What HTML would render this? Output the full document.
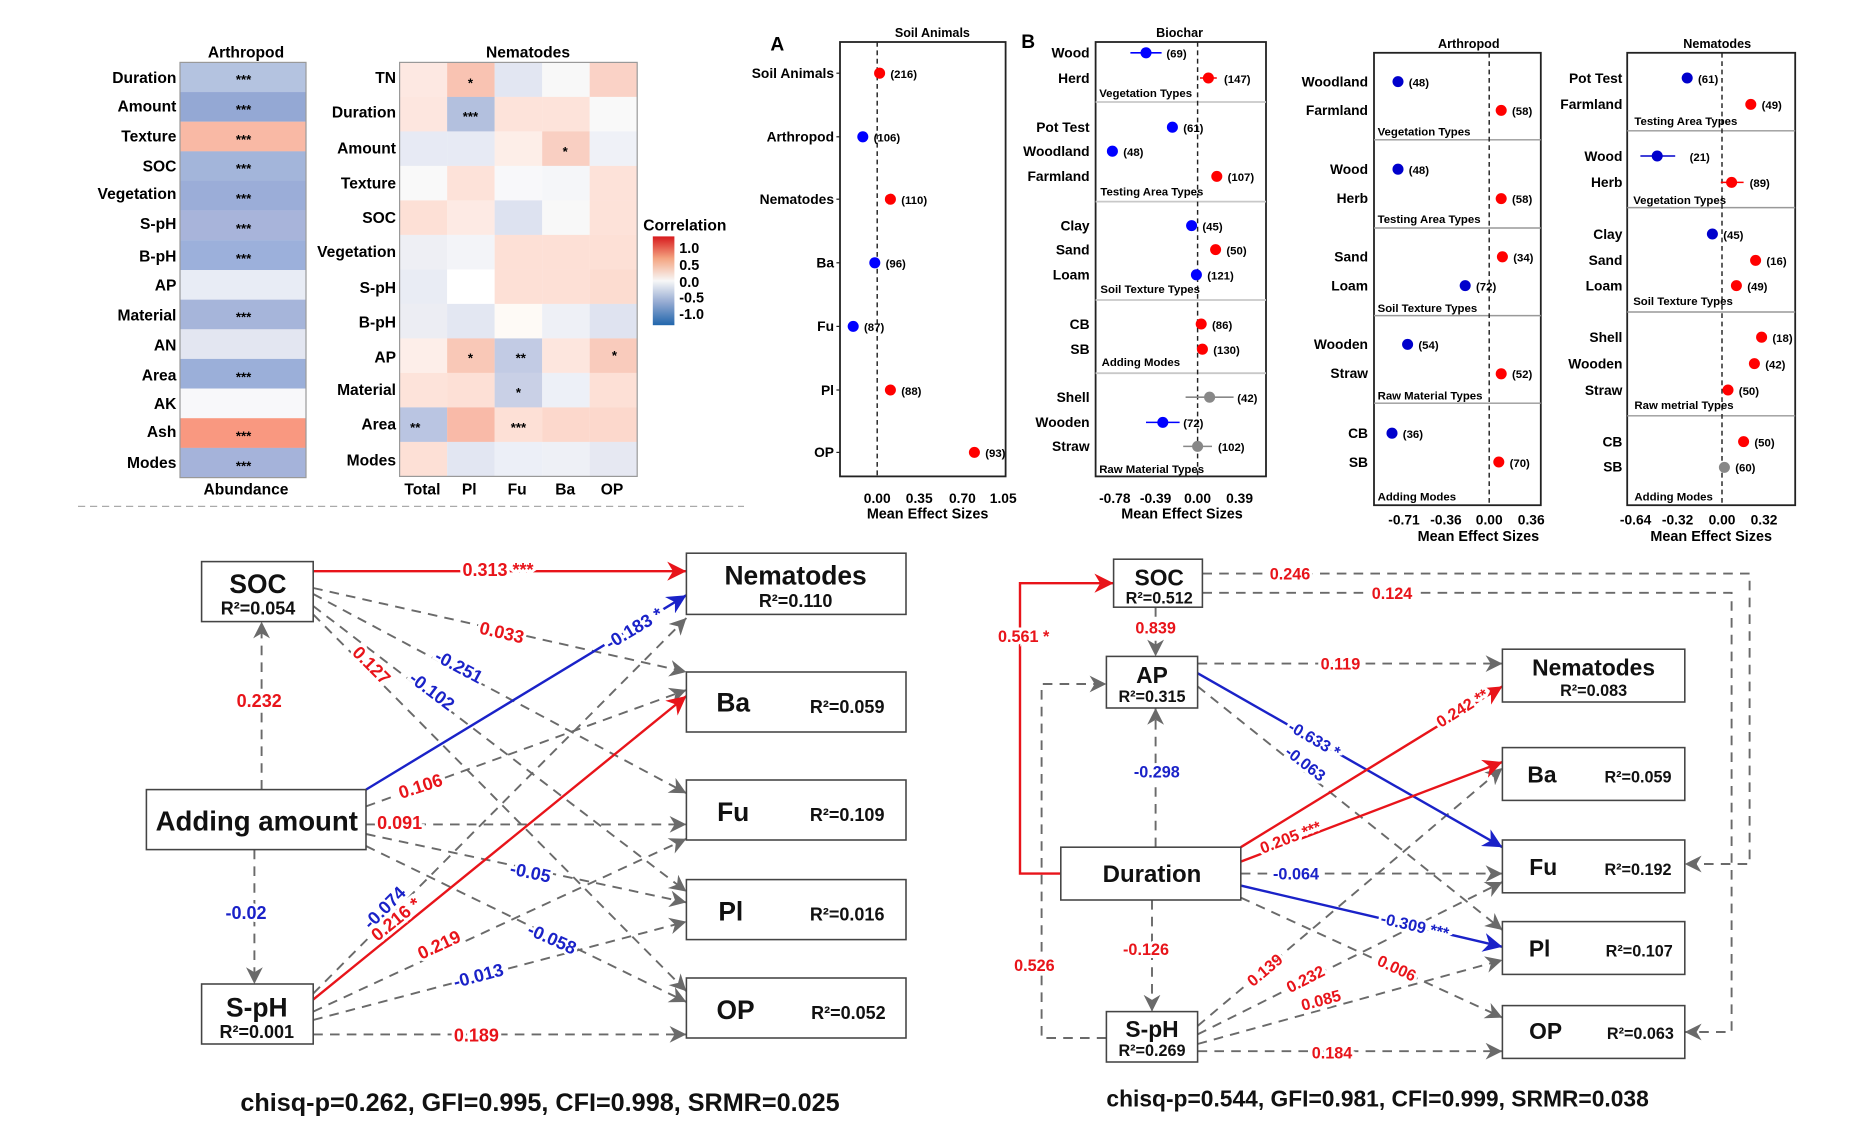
<!DOCTYPE html>
<html><head><meta charset="utf-8"><style>
html,body{margin:0;padding:0;background:#fff}
svg{display:block}
text{font-family:"Liberation Sans",Arial,sans-serif;font-weight:bold}
.n{font-family:"Liberation Sans Narrow","Liberation Sans",sans-serif}
</style></head><body>
<svg width="1875" height="1125" viewBox="0 0 1562.5 937.5" preserveAspectRatio="none" xmlns="http://www.w3.org/2000/svg">
<defs>
<marker id="ag" viewBox="0 0 10 10" refX="10" refY="5" markerWidth="14" markerHeight="14" markerUnits="userSpaceOnUse" orient="auto"><path d="M0,0 L10,5 L0,10 L3,5z" fill="#6a6a6a"/></marker>
<marker id="ar" viewBox="0 0 10 10" refX="10" refY="5" markerWidth="16" markerHeight="16" markerUnits="userSpaceOnUse" orient="auto"><path d="M0,0 L10,5 L0,10 L3,5z" fill="#e8141a"/></marker>
<marker id="ab" viewBox="0 0 10 10" refX="10" refY="5" markerWidth="16" markerHeight="16" markerUnits="userSpaceOnUse" orient="auto"><path d="M0,0 L10,5 L0,10 L3,5z" fill="#1a22c8"/></marker>
<linearGradient id="cb" x1="0" y1="0" x2="0" y2="1">
<stop offset="0" stop-color="#d7191c"/><stop offset="0.25" stop-color="#f4a582"/><stop offset="0.5" stop-color="#f7f7f7"/><stop offset="0.75" stop-color="#92a8d1"/><stop offset="1" stop-color="#2166ac"/></linearGradient>
</defs>

<!-- ===== Heatmap Arthropod ===== -->
<g class="n">
<text x="205" y="48" font-size="13" text-anchor="middle">Arthropod</text>
<rect x="150" y="52" width="105" height="24.8" fill="#b4c3e0"/>
<rect x="150" y="76.7" width="105" height="24.8" fill="#94a8d4"/>
<rect x="150" y="101.4" width="105" height="24.8" fill="#f9b9a5"/>
<rect x="150" y="126.1" width="105" height="24.8" fill="#a3b5da"/>
<rect x="150" y="150.8" width="105" height="24.8" fill="#9badd8"/>
<rect x="150" y="175.5" width="105" height="24.8" fill="#a8b4da"/>
<rect x="150" y="200.2" width="105" height="24.8" fill="#9cb0db"/>
<rect x="150" y="225" width="105" height="24.8" fill="#e8ecf5"/>
<rect x="150" y="249.7" width="105" height="24.8" fill="#a6b5da"/>
<rect x="150" y="274.4" width="105" height="24.8" fill="#e3e6f1"/>
<rect x="150" y="299.1" width="105" height="24.8" fill="#9bafd9"/>
<rect x="150" y="323.8" width="105" height="24.8" fill="#f8f8fa"/>
<rect x="150" y="348.5" width="105" height="24.8" fill="#f99880"/>
<rect x="150" y="373.2" width="105" height="24.8" fill="#a5b3da"/>
<rect x="150" y="52" width="105" height="346" fill="none" stroke="#999" stroke-width="1"/>
<g font-size="13" text-anchor="end">
<text x="147" y="69">Duration</text><text x="147" y="93">Amount</text><text x="147" y="118">Texture</text>
<text x="147" y="143">SOC</text><text x="147" y="166">Vegetation</text><text x="147" y="191">S-pH</text>
<text x="147" y="218">B-pH</text><text x="147" y="242">AP</text><text x="147" y="267">Material</text>
<text x="147" y="292">AN</text><text x="147" y="317">Area</text><text x="147" y="341">AK</text>
<text x="147" y="364">Ash</text><text x="147" y="390">Modes</text>
</g>
<g font-size="11" text-anchor="middle">
<text x="203" y="70">***</text><text x="203" y="95">***</text><text x="203" y="120">***</text>
<text x="203" y="144">***</text><text x="203" y="169">***</text><text x="203" y="194">***</text>
<text x="203" y="219">***</text><text x="203" y="268">***</text><text x="203" y="318">***</text>
<text x="203" y="367">***</text><text x="203" y="392">***</text>
</g>
<text x="205" y="412" font-size="13" text-anchor="middle">Abundance</text>
</g>

<!-- ===== Heatmap Nematodes ===== -->
<g class="n">
<text x="440" y="48" font-size="13" text-anchor="middle">Nematodes</text>
<rect x="333" y="52" width="39.7" height="28.8" fill="#fde8e2"/><rect x="372.6" y="52" width="39.7" height="28.8" fill="#f9c3b2"/><rect x="412.2" y="52" width="39.7" height="28.8" fill="#e2e6f2"/><rect x="451.8" y="52" width="39.7" height="28.8" fill="#f8f8f8"/><rect x="491.4" y="52" width="39.6" height="28.8" fill="#fad2c6"/>
<rect x="333" y="80.75" width="39.7" height="28.8" fill="#fde6df"/><rect x="372.6" y="80.75" width="39.7" height="28.8" fill="#b3c0de"/><rect x="412.2" y="80.75" width="39.7" height="28.8" fill="#fde3da"/><rect x="451.8" y="80.75" width="39.7" height="28.8" fill="#fde3da"/><rect x="491.4" y="80.75" width="39.6" height="28.8" fill="#f9f9f9"/>
<rect x="333" y="109.5" width="39.7" height="28.8" fill="#e7eaf4"/><rect x="372.6" y="109.5" width="39.7" height="28.8" fill="#e7eaf4"/><rect x="412.2" y="109.5" width="39.7" height="28.8" fill="#fdeee8"/><rect x="451.8" y="109.5" width="39.7" height="28.8" fill="#f9cfc2"/><rect x="491.4" y="109.5" width="39.6" height="28.8" fill="#eff1f7"/>
<rect x="333" y="138.25" width="39.7" height="28.8" fill="#f9f9f9"/><rect x="372.6" y="138.25" width="39.7" height="28.8" fill="#fde2d9"/><rect x="412.2" y="138.25" width="39.7" height="28.8" fill="#f8f8fa"/><rect x="451.8" y="138.25" width="39.7" height="28.8" fill="#f5f6f9"/><rect x="491.4" y="138.25" width="39.6" height="28.8" fill="#fde2d9"/>
<rect x="333" y="167" width="39.7" height="28.8" fill="#fde0d6"/><rect x="372.6" y="167" width="39.7" height="28.8" fill="#fdeae4"/><rect x="412.2" y="167" width="39.7" height="28.8" fill="#dde2f0"/><rect x="451.8" y="167" width="39.7" height="28.8" fill="#f8f8f8"/><rect x="491.4" y="167" width="39.6" height="28.8" fill="#fde2d9"/>
<rect x="333" y="195.75" width="39.7" height="28.8" fill="#eeeff4"/><rect x="372.6" y="195.75" width="39.7" height="28.8" fill="#f3f4f8"/><rect x="412.2" y="195.75" width="39.7" height="28.8" fill="#fde0d6"/><rect x="451.8" y="195.75" width="39.7" height="28.8" fill="#fde0d6"/><rect x="491.4" y="195.75" width="39.6" height="28.8" fill="#fde0d6"/>
<rect x="333" y="224.5" width="39.7" height="28.8" fill="#e9ecf4"/><rect x="372.6" y="224.5" width="39.7" height="28.8" fill="#ffffff"/><rect x="412.2" y="224.5" width="39.7" height="28.8" fill="#fde0d6"/><rect x="451.8" y="224.5" width="39.7" height="28.8" fill="#fde0d6"/><rect x="491.4" y="224.5" width="39.6" height="28.8" fill="#fcdcd0"/>
<rect x="333" y="253.25" width="39.7" height="28.8" fill="#ecedf3"/><rect x="372.6" y="253.25" width="39.7" height="28.8" fill="#e3e7f2"/><rect x="412.2" y="253.25" width="39.7" height="28.8" fill="#fefaf6"/><rect x="451.8" y="253.25" width="39.7" height="28.8" fill="#eef0f6"/><rect x="491.4" y="253.25" width="39.6" height="28.8" fill="#dfe3f0"/>
<rect x="333" y="282" width="39.7" height="28.8" fill="#fdeee9"/><rect x="372.6" y="282" width="39.7" height="28.8" fill="#f9c8b7"/><rect x="412.2" y="282" width="39.7" height="28.8" fill="#c2cbe4"/><rect x="451.8" y="282" width="39.7" height="28.8" fill="#fde6de"/><rect x="491.4" y="282" width="39.6" height="28.8" fill="#f9cbbc"/>
<rect x="333" y="310.75" width="39.7" height="28.8" fill="#fde3da"/><rect x="372.6" y="310.75" width="39.7" height="28.8" fill="#fde0d6"/><rect x="412.2" y="310.75" width="39.7" height="28.8" fill="#c9d0e6"/><rect x="451.8" y="310.75" width="39.7" height="28.8" fill="#edf0f7"/><rect x="491.4" y="310.75" width="39.6" height="28.8" fill="#fde0d6"/>
<rect x="333" y="339.5" width="39.7" height="28.8" fill="#bac5e2"/><rect x="372.6" y="339.5" width="39.7" height="28.8" fill="#f9baa8"/><rect x="412.2" y="339.5" width="39.7" height="28.8" fill="#fde0d6"/><rect x="451.8" y="339.5" width="39.7" height="28.8" fill="#fcd8cc"/><rect x="491.4" y="339.5" width="39.6" height="28.8" fill="#fcd8cc"/>
<rect x="333" y="368.25" width="39.7" height="28.75" fill="#fde0d6"/><rect x="372.6" y="368.25" width="39.7" height="28.75" fill="#e2e6f2"/><rect x="412.2" y="368.25" width="39.7" height="28.75" fill="#eceff7"/><rect x="451.8" y="368.25" width="39.7" height="28.75" fill="#eef0f6"/><rect x="491.4" y="368.25" width="39.6" height="28.75" fill="#e6e8f2"/>
<rect x="333" y="52" width="198" height="345" fill="none" stroke="#999" stroke-width="1"/>
<g font-size="13" text-anchor="end">
<text x="330" y="69">TN</text><text x="330" y="98">Duration</text><text x="330" y="128">Amount</text>
<text x="330" y="157">Texture</text><text x="330" y="186">SOC</text><text x="330" y="214">Vegetation</text>
<text x="330" y="244">S-pH</text><text x="330" y="273">B-pH</text><text x="330" y="302">AP</text>
<text x="330" y="329">Material</text><text x="330" y="358">Area</text><text x="330" y="388">Modes</text>
</g>
<g font-size="11" text-anchor="middle">
<text x="392" y="73">*</text><text x="392" y="101">***</text><text x="471" y="130">*</text>
<text x="392" y="302">*</text><text x="434" y="302">**</text><text x="512" y="300">*</text>
<text x="432" y="331">*</text><text x="346" y="360">**</text><text x="432" y="360">***</text>
</g>
<g font-size="13" text-anchor="middle">
<text x="352" y="412">Total</text><text x="391" y="412">Pl</text><text x="431" y="412">Fu</text><text x="471" y="412">Ba</text><text x="510" y="412">OP</text>
</g>
<text x="536" y="192" font-size="13">Correlation</text>
<rect x="544" y="197" width="18" height="74" fill="url(#cb)"/>
<g font-size="12"><text x="566" y="211">1.0</text><text x="566" y="225">0.5</text><text x="566" y="239">0.0</text><text x="566" y="252">-0.5</text><text x="566" y="266">-1.0</text></g>
</g>

<line x1="65" y1="422" x2="620" y2="422" stroke="#aaa" stroke-width="1" stroke-dasharray="6,4"/>

<!-- ===== Panel A ===== -->
<g font-size="12">
<text x="642" y="42" font-size="16">A</text>
<text x="777" y="31" font-size="10.5" text-anchor="middle">Soil Animals</text>
<rect x="700" y="35" width="138" height="362" fill="none" stroke="#222" stroke-width="1.5"/>
<line x1="731" y1="35" x2="731" y2="397" stroke="#222" stroke-width="1.2" stroke-dasharray="4,3"/>
<g text-anchor="end" font-size="11.5">
<text x="695" y="65">Soil Animals</text><text x="695" y="118">Arthropod</text><text x="695" y="170">Nematodes</text>
<text x="695" y="223">Ba</text><text x="695" y="276">Fu</text><text x="695" y="329">Pl</text><text x="695" y="381">OP</text>
</g>
<g stroke="#222"><line x1="697" y1="61" x2="700" y2="61"/><line x1="697" y1="114" x2="700" y2="114"/><line x1="697" y1="166" x2="700" y2="166"/><line x1="697" y1="219" x2="700" y2="219"/><line x1="697" y1="272" x2="700" y2="272"/><line x1="697" y1="325" x2="700" y2="325"/><line x1="697" y1="377" x2="700" y2="377"/></g>
<circle cx="733" cy="61" r="4.6" fill="#f00"/><circle cx="719" cy="114" r="4.6" fill="#00f"/><circle cx="742" cy="166" r="4.6" fill="#f00"/>
<circle cx="729" cy="219" r="4.6" fill="#00f"/><circle cx="711" cy="272" r="4.6" fill="#00f"/><circle cx="742" cy="325" r="4.6" fill="#f00"/><circle cx="812" cy="377" r="4.6" fill="#f00"/>
<g font-size="9.5"><text x="742" y="65">(216)</text><text x="728" y="118">(106)</text><text x="751" y="170">(110)</text><text x="738" y="223">(96)</text><text x="720" y="276">(87)</text><text x="751" y="329">(88)</text><text x="821" y="381">(93)</text></g>
<g text-anchor="middle" font-size="11.5"><text x="731" y="419">0.00</text><text x="766" y="419">0.35</text><text x="802" y="419">0.70</text><text x="836" y="419">1.05</text></g>
<text x="773" y="432" font-size="12" text-anchor="middle">Mean Effect Sizes</text>
</g>

<!-- ===== Panel B ===== -->
<g font-size="12">
<text x="851" y="40" font-size="16">B</text>
<text x="983" y="31" font-size="10.5" text-anchor="middle">Biochar</text>
<rect x="913" y="35" width="142" height="362" fill="none" stroke="#222" stroke-width="1.5"/>
<g stroke="#c8c8c8" stroke-width="1.5"><line x1="913" y1="85" x2="1055" y2="85"/><line x1="913" y1="168" x2="1055" y2="168"/><line x1="913" y1="250" x2="1055" y2="250"/><line x1="913" y1="311" x2="1055" y2="311"/></g>
<line x1="998" y1="35" x2="998" y2="397" stroke="#222" stroke-width="1.2" stroke-dasharray="4,3"/>
<g text-anchor="end" font-size="11.5">
<text x="908" y="48">Wood</text><text x="908" y="69">Herd</text><text x="908" y="110">Pot Test</text><text x="908" y="130">Woodland</text><text x="908" y="151">Farmland</text>
<text x="908" y="192">Clay</text><text x="908" y="212">Sand</text><text x="908" y="233">Loam</text><text x="908" y="274">CB</text><text x="908" y="295">SB</text>
<text x="908" y="335">Shell</text><text x="908" y="356">Wooden</text><text x="908" y="376">Straw</text>
</g>
<g font-size="9.5"><text x="916" y="81">Vegetation Types</text><text x="917" y="163">Testing Area Types</text><text x="917" y="244">Soil Texture Types</text><text x="918" y="305">Adding Modes</text><text x="916" y="394">Raw Material Types</text></g>
<g stroke-width="1.3"><line x1="942" y1="44" x2="968" y2="44" stroke="#00f"/><line x1="1000" y1="65" x2="1014" y2="65" stroke="#f00"/><line x1="988" y1="331" x2="1028" y2="331" stroke="#888"/><line x1="955" y1="352" x2="983" y2="352" stroke="#00f"/><line x1="986" y1="372" x2="1010" y2="372" stroke="#888"/></g>
<circle cx="955" cy="44" r="4.6" fill="#00f"/><circle cx="1007" cy="65" r="4.6" fill="#f00"/><circle cx="977" cy="106" r="4.6" fill="#00f"/><circle cx="927" cy="126" r="4.6" fill="#00f"/><circle cx="1014" cy="147" r="4.6" fill="#f00"/>
<circle cx="993" cy="188" r="4.6" fill="#00f"/><circle cx="1013" cy="208" r="4.6" fill="#f00"/><circle cx="997" cy="229" r="4.6" fill="#00f"/><circle cx="1001" cy="270" r="4.6" fill="#f00"/><circle cx="1002" cy="291" r="4.6" fill="#f00"/>
<circle cx="1008" cy="331" r="4.6" fill="#888"/><circle cx="969" cy="352" r="4.6" fill="#00f"/><circle cx="998" cy="372" r="4.6" fill="#888"/>
<g font-size="9.5"><text x="972" y="48">(69)</text><text x="1020" y="69">(147)</text><text x="986" y="110">(61)</text><text x="936" y="130">(48)</text><text x="1023" y="151">(107)</text>
<text x="1002" y="192">(45)</text><text x="1022" y="212">(50)</text><text x="1006" y="233">(121)</text><text x="1010" y="274">(86)</text><text x="1011" y="295">(130)</text>
<text x="1031" y="335">(42)</text><text x="986" y="356">(72)</text><text x="1015" y="376">(102)</text></g>
<g text-anchor="middle" font-size="11.5"><text x="929" y="419">-0.78</text><text x="963" y="419">-0.39</text><text x="998" y="419">0.00</text><text x="1033" y="419">0.39</text></g>
<text x="985" y="432" font-size="12" text-anchor="middle">Mean Effect Sizes</text>
</g>

<!-- ===== Panel Arthropod right ===== -->
<g font-size="12">
<text x="1224" y="40" font-size="10.5" text-anchor="middle">Arthropod</text>
<rect x="1145" y="44" width="139" height="377" fill="none" stroke="#222" stroke-width="1.5"/>
<g stroke="#999" stroke-width="1.2"><line x1="1145" y1="116.5" x2="1284" y2="116.5"/><line x1="1145" y1="190" x2="1284" y2="190"/><line x1="1145" y1="263" x2="1284" y2="263"/><line x1="1145" y1="336" x2="1284" y2="336"/></g>
<line x1="1241" y1="44" x2="1241" y2="421" stroke="#222" stroke-width="1.2" stroke-dasharray="4,3"/>
<g text-anchor="end" font-size="11.5">
<text x="1140" y="72">Woodland</text><text x="1140" y="96">Farmland</text><text x="1140" y="145">Wood</text><text x="1140" y="169">Herb</text>
<text x="1140" y="218">Sand</text><text x="1140" y="242">Loam</text><text x="1140" y="291">Wooden</text><text x="1140" y="315">Straw</text>
<text x="1140" y="365">CB</text><text x="1140" y="389">SB</text>
</g>
<g font-size="9.5"><text x="1148" y="113">Vegetation Types</text><text x="1148" y="186">Testing Area Types</text><text x="1148" y="260">Soil Texture Types</text><text x="1148" y="333">Raw Material Types</text><text x="1148" y="417">Adding Modes</text></g>
<circle cx="1165" cy="68" r="4.6" fill="#00c"/><circle cx="1251" cy="92" r="4.6" fill="#f00"/><circle cx="1165" cy="141" r="4.6" fill="#00c"/><circle cx="1251" cy="165.5" r="4.6" fill="#f00"/>
<circle cx="1252" cy="214" r="4.6" fill="#f00"/><circle cx="1221" cy="238" r="4.6" fill="#00c"/><circle cx="1173" cy="287" r="4.6" fill="#00c"/><circle cx="1251" cy="311.5" r="4.6" fill="#f00"/>
<circle cx="1160" cy="361" r="4.6" fill="#00c"/><circle cx="1249" cy="385" r="4.6" fill="#f00"/>
<g font-size="9.5"><text x="1174" y="72">(48)</text><text x="1260" y="96">(58)</text><text x="1174" y="145">(48)</text><text x="1260" y="169">(58)</text>
<text x="1261" y="218">(34)</text><text x="1230" y="242">(72)</text><text x="1182" y="291">(54)</text><text x="1260" y="315">(52)</text>
<text x="1169" y="365">(36)</text><text x="1258" y="389">(70)</text></g>
<g text-anchor="middle" font-size="11.5"><text x="1170" y="437">-0.71</text><text x="1205" y="437">-0.36</text><text x="1241" y="437">0.00</text><text x="1276" y="437">0.36</text></g>
<text x="1232" y="451" font-size="12" text-anchor="middle">Mean Effect Sizes</text>
</g>

<!-- ===== Panel Nematodes right ===== -->
<g font-size="12">
<text x="1431" y="40" font-size="10.5" text-anchor="middle">Nematodes</text>
<rect x="1356" y="44" width="140" height="377" fill="none" stroke="#222" stroke-width="1.5"/>
<g stroke="#999" stroke-width="1.2"><line x1="1356" y1="109" x2="1496" y2="109"/><line x1="1356" y1="173" x2="1496" y2="173"/><line x1="1356" y1="260" x2="1496" y2="260"/><line x1="1356" y1="346.5" x2="1496" y2="346.5"/></g>
<line x1="1435" y1="44" x2="1435" y2="421" stroke="#222" stroke-width="1.2" stroke-dasharray="4,3"/>
<g text-anchor="end" font-size="11.5">
<text x="1352" y="69">Pot Test</text><text x="1352" y="91">Farmland</text><text x="1352" y="134">Wood</text><text x="1352" y="156">Herb</text>
<text x="1352" y="199">Clay</text><text x="1352" y="221">Sand</text><text x="1352" y="242">Loam</text>
<text x="1352" y="285">Shell</text><text x="1352" y="307">Wooden</text><text x="1352" y="329">Straw</text>
<text x="1352" y="372">CB</text><text x="1352" y="393">SB</text>
</g>
<g font-size="9.5"><text x="1362" y="104">Testing Area Types</text><text x="1361" y="170">Vegetation Types</text><text x="1361" y="254">Soil Texture Types</text><text x="1362" y="341">Raw metrial Types</text><text x="1362" y="417">Adding Modes</text></g>
<line x1="1367" y1="130" x2="1396" y2="130" stroke="#00c" stroke-width="1.3"/><line x1="1434" y1="152" x2="1453" y2="152" stroke="#f00" stroke-width="1.3"/>
<circle cx="1406" cy="65" r="4.6" fill="#00c"/><circle cx="1459" cy="87" r="4.6" fill="#f00"/><circle cx="1381" cy="130" r="4.6" fill="#00c"/><circle cx="1443" cy="152" r="4.6" fill="#f00"/>
<circle cx="1427" cy="195" r="4.6" fill="#00c"/><circle cx="1463" cy="217" r="4.6" fill="#f00"/><circle cx="1447" cy="238" r="4.6" fill="#f00"/>
<circle cx="1468" cy="281" r="4.6" fill="#f00"/><circle cx="1462" cy="303" r="4.6" fill="#f00"/><circle cx="1440" cy="325" r="4.6" fill="#f00"/>
<circle cx="1453" cy="368" r="4.6" fill="#f00"/><circle cx="1437" cy="389.5" r="4.6" fill="#888"/>
<g font-size="9.5"><text x="1415" y="69">(61)</text><text x="1468" y="91">(49)</text><text x="1408" y="134">(21)</text><text x="1458" y="156">(89)</text>
<text x="1436" y="199">(45)</text><text x="1472" y="221">(16)</text><text x="1456" y="242">(49)</text>
<text x="1477" y="285">(18)</text><text x="1471" y="307">(42)</text><text x="1449" y="329">(50)</text>
<text x="1462" y="372">(50)</text><text x="1446" y="393">(60)</text></g>
<g text-anchor="middle" font-size="11.5"><text x="1363" y="437">-0.64</text><text x="1398" y="437">-0.32</text><text x="1435" y="437">0.00</text><text x="1470" y="437">0.32</text></g>
<text x="1426" y="451" font-size="12" text-anchor="middle">Mean Effect Sizes</text>
</g>

<!-- ===== Left SEM ===== -->
<g fill="none" stroke="#6a6a6a" stroke-width="1.6" stroke-dasharray="8,6">
<line x1="261" y1="490" x2="572" y2="560" marker-end="url(#ag)"/>
<line x1="261" y1="495" x2="572" y2="661" marker-end="url(#ag)"/>
<line x1="261" y1="505" x2="572" y2="743" marker-end="url(#ag)"/>
<line x1="261" y1="512" x2="572" y2="826" marker-end="url(#ag)"/>
<line x1="305" y1="672" x2="572" y2="575" marker-end="url(#ag)"/>
<line x1="305" y1="687" x2="572" y2="687" marker-end="url(#ag)"/>
<line x1="305" y1="695" x2="572" y2="752" marker-end="url(#ag)"/>
<line x1="305" y1="705" x2="572" y2="835" marker-end="url(#ag)"/>
<line x1="261" y1="828" x2="572" y2="515" marker-end="url(#ag)"/>
<line x1="261" y1="843" x2="572" y2="699" marker-end="url(#ag)"/>
<line x1="261" y1="850" x2="572" y2="768" marker-end="url(#ag)"/>
<line x1="261" y1="862" x2="572" y2="862" marker-end="url(#ag)"/>
<line x1="218" y1="658" x2="218" y2="518" marker-end="url(#ag)"/>
<line x1="212" y1="708" x2="212" y2="820" marker-end="url(#ag)"/>
</g>
<line x1="261" y1="476" x2="572" y2="476" stroke="#e8141a" stroke-width="2" marker-end="url(#ar)"/>
<line x1="305" y1="658" x2="572" y2="496" stroke="#1a22c8" stroke-width="2" marker-end="url(#ab)"/>
<line x1="261" y1="833" x2="572" y2="580" stroke="#e8141a" stroke-width="2" marker-end="url(#ar)"/>
<g fill="#fff" stroke="#444" stroke-width="1.3">
<rect x="168" y="468" width="93" height="50"/><rect x="572" y="461" width="183" height="51"/><rect x="572" y="560" width="183" height="50"/>
<rect x="572" y="650" width="183" height="50"/><rect x="572" y="733" width="183" height="50"/><rect x="572" y="815" width="183" height="50"/>
<rect x="122" y="658" width="183" height="50"/><rect x="168" y="820" width="93" height="50"/>
</g>
<g class="n" text-anchor="middle" fill="#111">
<text x="215" y="494" font-size="22">SOC</text><text x="215" y="512" font-size="15">R²=0.054</text>
<text x="663" y="487" font-size="22">Nematodes</text><text x="663" y="506" font-size="15">R²=0.110</text>
<text x="611" y="593" font-size="22">Ba</text><text x="706" y="594" font-size="15">R²=0.059</text>
<text x="611" y="684" font-size="22">Fu</text><text x="706" y="684" font-size="15">R²=0.109</text>
<text x="609" y="767" font-size="22">Pl</text><text x="706" y="767" font-size="15">R²=0.016</text>
<text x="613" y="849" font-size="22">OP</text><text x="707" y="849" font-size="15">R²=0.052</text>
<text x="214" y="692" font-size="23">Adding amount</text>
<text x="214" y="865" font-size="15">R²=0.001</text><text x="214" y="847" font-size="22">S-pH</text>
</g>
<g class="n" font-size="15" text-anchor="middle" stroke="#fff" stroke-width="5" paint-order="stroke">
<text x="415" y="480" fill="#e8141a">0.313 ***</text>
<text transform="translate(417,532) rotate(13)" fill="#e8141a">0.033</text>
<text transform="translate(380,560) rotate(28)" fill="#1a22c8">-0.251</text>
<text transform="translate(357,580) rotate(37)" fill="#1a22c8">-0.102</text>
<text transform="translate(306,558) rotate(45)" fill="#e8141a">0.127</text>
<text transform="translate(531,528) rotate(-31)" fill="#1a22c8">-0.183 *</text>
<text x="216" y="589" fill="#e8141a">0.232</text>
<text transform="translate(352,660) rotate(-18)" fill="#e8141a">0.106</text>
<text x="333" y="691" fill="#e8141a">0.091</text>
<text transform="translate(441,732) rotate(12)" fill="#1a22c8">-0.05</text>
<text transform="translate(458,787) rotate(24)" fill="#1a22c8">-0.058</text>
<text x="205" y="766" fill="#1a22c8">-0.02</text>
<text transform="translate(324,760) rotate(-45)" fill="#1a22c8">-0.074</text>
<text transform="translate(333,770) rotate(-39)" fill="#e8141a">0.216 *</text>
<text transform="translate(368,792) rotate(-25)" fill="#e8141a">0.219</text>
<text transform="translate(400,818) rotate(-15)" fill="#1a22c8">-0.013</text>
<text x="397" y="868" fill="#e8141a">0.189</text>
</g>
<text class="n" x="450" y="926" font-size="21" text-anchor="middle" fill="#111">chisq-p=0.262, GFI=0.995, CFI=0.998, SRMR=0.025</text>

<!-- ===== Right SEM ===== -->
<g fill="none" stroke="#6a6a6a" stroke-width="1.6" stroke-dasharray="8,6">
<line x1="963" y1="506" x2="963" y2="547" marker-end="url(#ag)"/>
<polyline points="922,865 868,865 868,570 922,570" marker-end="url(#ag)"/>
<line x1="963" y1="706" x2="963" y2="590" marker-end="url(#ag)"/>
<line x1="960" y1="750" x2="960" y2="843" marker-end="url(#ag)"/>
<polyline points="1002,478 1458,478 1458,720 1404,720" marker-end="url(#ag)"/>
<polyline points="1002,494 1443,494 1443,860 1404,860" marker-end="url(#ag)"/>
<line x1="998" y1="553" x2="1252" y2="553" marker-end="url(#ag)"/>
<line x1="998" y1="572" x2="1252" y2="775" marker-end="url(#ag)"/>
<line x1="1034" y1="728" x2="1252" y2="728" marker-end="url(#ag)"/>
<line x1="1034" y1="748" x2="1252" y2="848" marker-end="url(#ag)"/>
<line x1="998" y1="855" x2="1252" y2="640" marker-end="url(#ag)"/>
<line x1="998" y1="862" x2="1252" y2="735" marker-end="url(#ag)"/>
<line x1="998" y1="870" x2="1252" y2="800" marker-end="url(#ag)"/>
<line x1="998" y1="876" x2="1252" y2="876" marker-end="url(#ag)"/>
</g>
<polyline points="884,728 850,728 850,486 928,486" fill="none" stroke="#e8141a" stroke-width="2" marker-end="url(#ar)"/>
<line x1="998" y1="561" x2="1252" y2="706" stroke="#1a22c8" stroke-width="2" marker-end="url(#ab)"/>
<line x1="1034" y1="706" x2="1252" y2="572" stroke="#e8141a" stroke-width="2" marker-end="url(#ar)"/>
<line x1="1034" y1="718" x2="1252" y2="635" stroke="#e8141a" stroke-width="2" marker-end="url(#ar)"/>
<line x1="1034" y1="738" x2="1252" y2="789" stroke="#1a22c8" stroke-width="2" marker-end="url(#ab)"/>
<g fill="#fff" stroke="#444" stroke-width="1.3">
<rect x="928" y="466" width="74" height="40"/><rect x="922" y="547" width="76" height="43"/><rect x="884" y="706" width="150" height="44"/><rect x="922" y="843" width="76" height="42"/>
<rect x="1252" y="541" width="152" height="44"/><rect x="1252" y="623" width="152" height="44"/><rect x="1252" y="700" width="152" height="44"/><rect x="1252" y="768" width="152" height="44"/><rect x="1252" y="838" width="152" height="44"/>
</g>
<g class="n" text-anchor="middle" fill="#111">
<text x="966" y="488" font-size="19">SOC</text><text x="966" y="503" font-size="13.5">R²=0.512</text>
<text x="960" y="569" font-size="19">AP</text><text x="960" y="585" font-size="13.5">R²=0.315</text>
<text x="960" y="735" font-size="20">Duration</text>
<text x="960" y="864" font-size="19">S-pH</text><text x="960" y="880" font-size="13.5">R²=0.269</text>
<text x="1328" y="563" font-size="19">Nematodes</text><text x="1328" y="580" font-size="13.5">R²=0.083</text>
<text x="1285" y="652" font-size="19">Ba</text><text x="1365" y="652" font-size="13.5">R²=0.059</text>
<text x="1286" y="729" font-size="19">Fu</text><text x="1365" y="729" font-size="13.5">R²=0.192</text>
<text x="1283" y="797" font-size="19">Pl</text><text x="1366" y="797" font-size="13.5">R²=0.107</text>
<text x="1288" y="866" font-size="19">OP</text><text x="1367" y="866" font-size="13.5">R²=0.063</text>
</g>
<g class="n" font-size="13.5" text-anchor="middle" stroke="#fff" stroke-width="5" paint-order="stroke">
<text x="1075" y="483" fill="#e8141a">0.246</text>
<text x="1160" y="499" fill="#e8141a">0.124</text>
<text x="853" y="535" fill="#e8141a">0.561 *</text>
<text x="963" y="528" fill="#e8141a">0.839</text>
<text x="1117" y="558" fill="#e8141a">0.119</text>
<text transform="translate(1093,620) rotate(30)" fill="#1a22c8">-0.633 *</text>
<text transform="translate(1085,640) rotate(38)" fill="#1a22c8">-0.063</text>
<text x="964" y="648" fill="#1a22c8">-0.298</text>
<text transform="translate(1221,594) rotate(-32)" fill="#e8141a">0.242 **</text>
<text transform="translate(1077,702) rotate(-21)" fill="#e8141a">0.205 ***</text>
<text x="1080" y="733" fill="#1a22c8">-0.064</text>
<text transform="translate(1178,776) rotate(13)" fill="#1a22c8">-0.309 ***</text>
<text x="955" y="796" fill="#e8141a">-0.126</text>
<text x="862" y="809" fill="#e8141a">0.526</text>
<text transform="translate(1162,811) rotate(25)" fill="#e8141a">0.006</text>
<text transform="translate(1057,812) rotate(-40)" fill="#e8141a">0.139</text>
<text transform="translate(1090,820) rotate(-27)" fill="#e8141a">0.232</text>
<text transform="translate(1102,838) rotate(-15)" fill="#e8141a">0.085</text>
<text x="1110" y="882" fill="#e8141a">0.184</text>
</g>
<text class="n" x="1148" y="922" font-size="19" text-anchor="middle" fill="#111">chisq-p=0.544, GFI=0.981, CFI=0.999, SRMR=0.038</text>
</svg>
</body></html>
